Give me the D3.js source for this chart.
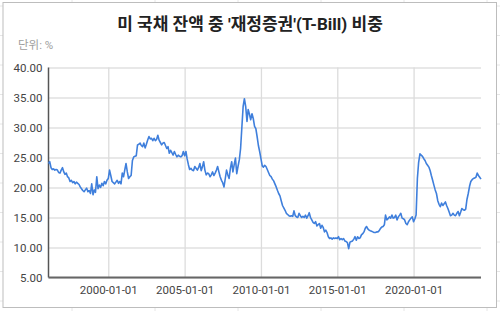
<!DOCTYPE html>
<html>
<head>
<meta charset="utf-8">
<script src="https://cdn.jsdelivr.net/npm/d3@7"></script>
<style>
  body { margin: 0; background: #fff; }
  text { font-family: Roboto, "Noto Sans CJK KR", "Noto Sans", sans-serif; }
</style>
</head>
<body>
<div id="chart"></div>
<script>
// monthly share of T-Bills in US marketable debt (%)
let startMonth = '1996-02-01'
let values1996 = [24.0, 24.3, 23.3, 23.0, 23.1, 22.9, 23.0, 22.9, 22.5, 22.4, 22.9]
let values1997 = [23.3, 22.6, 22.2, 22.4, 21.8, 21.6, 21.0, 21.2, 20.8, 21.0, 20.6, 20.9]
let values1998 = [20.7, 20.5, 20.1, 19.8, 19.5, 19.3, 19.6, 19.9, 19.3, 19.5, 19.0, 20.6]
let values1999 = [18.8, 19.6, 19.2, 21.8, 19.8, 20.4, 20.0, 20.7, 20.3, 21.0, 20.6, 21.2]
let values2000 = [21.5, 22.9, 22.0, 21.0, 20.8, 20.6, 20.9, 21.2, 20.7, 21.0, 20.6, 22.4]
let values2001 = [21.8, 23.0, 24.0, 22.6, 21.5, 21.8, 22.0, 24.5, 25.1, 25.2, 25.3, 27.1]
let values2002 = [27.2, 27.4, 27.0, 26.8, 27.4, 26.6, 27.2, 27.9, 28.5, 28.1, 28.2, 27.8]
let values2003 = [28.2, 27.8, 28.0, 28.7, 27.9, 27.5, 27.1, 27.4, 27.5, 27.0, 26.5, 26.8]
let values2004 = [25.7, 26.2, 25.8, 25.4, 26.0, 25.5, 25.1, 25.4, 25.2, 25.1, 25.3, 26.0]
let values2005 = [25.3, 26.0, 24.8, 23.8, 23.0, 23.2, 22.9, 22.8, 23.5, 23.2, 22.9, 23.3]
let values2006 = [24.0, 22.8, 23.4, 24.3, 22.9, 22.1, 22.4, 22.3, 21.8, 22.1, 22.6, 22.0]
let values2007 = [22.4, 22.9, 23.5, 22.6, 21.8, 21.2, 20.8, 20.1, 21.5, 22.9, 22.1, 21.5]
let values2008 = [23.2, 24.3, 22.6, 23.8, 24.9, 22.3, 23.5, 24.6, 26.5, 30.0, 33.5, 34.8]
let values2009 = [33.5, 31.0, 33.0, 32.2, 31.3, 32.3, 31.5, 30.2, 29.8, 28.5, 27.0, 26.0]
let values2010 = [24.8, 23.6, 23.4, 23.7, 23.5, 23.0, 22.5, 22.0, 21.8, 21.4, 21.1, 20.6]
let values2011 = [20.1, 19.5, 19.0, 18.6, 17.8, 17.0, 16.6, 16.2, 15.7, 15.5, 15.3, 15.2]
let values2012 = [15.3, 15.2, 16.1, 15.3, 15.1, 15.0, 15.7, 15.3, 15.0, 15.2, 15.0, 15.4]
let values2013 = [14.9, 15.3, 15.8, 15.0, 14.6, 14.2, 14.0, 14.3, 13.6, 13.8, 14.0, 13.2]
let values2014 = [13.7, 13.3, 12.6, 12.9, 12.5, 11.8, 11.5, 11.6, 11.4, 11.6, 11.5, 11.6]
let values2015 = [11.5, 11.8, 11.3, 11.5, 11.3, 11.5, 11.1, 11.0, 10.8, 9.8, 10.9, 11.0]
let values2016 = [11.1, 11.4, 11.8, 11.2, 11.8, 11.5, 11.6, 12.1, 12.3, 12.6, 13.2, 13.5]
let values2017 = [13.1, 12.9, 12.8, 12.7, 12.6, 12.5, 12.5, 12.6, 12.6, 12.8, 13.2, 13.4]
let values2018 = [13.5, 13.8, 15.4, 14.6, 14.8, 15.1, 14.9, 15.4, 14.9, 15.0, 15.4, 14.6]
let values2019 = [15.1, 15.4, 15.7, 14.9, 14.8, 14.6, 14.0, 13.8, 14.3, 14.6, 14.9, 15.1]
let values2020 = [14.3, 14.8, 15.4, 21.5, 24.2, 25.6, 25.4, 25.2, 24.8, 24.5, 24.0, 23.7]
let values2021 = [23.4, 22.8, 22.0, 21.2, 20.4, 19.6, 19.0, 17.8, 17.2, 16.8, 17.4, 17.0]
let values2022 = [17.3, 17.6, 17.0, 16.5, 15.9, 15.3, 15.4, 15.7, 15.4, 15.3, 15.7, 16.0]
let values2023 = [15.3, 15.9, 16.5, 16.3, 16.2, 16.4, 18.0, 19.0, 20.2, 21.0, 21.3, 21.5]
let values2024 = [21.6, 21.7, 22.4, 22.0, 21.7, 21.4]

let yTicks = [5, 10, 15, 20, 25, 30, 35, 40]
let xTickLabels = ['2000-01-01', '2005-01-01', '2010-01-01', '2015-01-01', '2020-01-01']
let title = "미 국채 잔액 중 '재정증권'(T-Bill) 비중"
let unitLabel = '단위: %'

let values = [].concat(
  values1996, values1997, values1998, values1999, values2000, values2001,
  values2002, values2003, values2004, values2005, values2006, values2007,
  values2008, values2009, values2010, values2011, values2012, values2013,
  values2014, values2015, values2016, values2017, values2018, values2019,
  values2020, values2021, values2022, values2023, values2024
)
let parse = d3.utcParse('%Y-%m-%d')
let first = parse(startMonth)
let data = values.map((v, i) => ({ date: d3.utcMonth.offset(first, i), value: v }))

let width = 500
let height = 311
let margin = { top: 67.5, right: 19, bottom: 33.5, left: 48.5 }

let svg = d3.select('#chart')
  .append('svg')
  .attr('width', width)
  .attr('height', height)

// faint spreadsheet cell lines behind the chart box
let cellG = svg.append('g').attr('stroke', '#e6e6e6').attr('stroke-width', 1)
d3.range(72, width, 83).forEach(x => {
  cellG.append('line').attr('x1', x).attr('x2', x).attr('y1', 0).attr('y2', height)
})
d3.range(6, height, 29.5).forEach(y => {
  cellG.append('line').attr('x1', 0).attr('x2', width).attr('y1', y).attr('y2', y)
})

svg.append('rect')
  .attr('x', 3)
  .attr('y', 2.5)
  .attr('width', 493.5)
  .attr('height', 305)
  .attr('fill', '#ffffff')
  .attr('stroke', '#bdbdbd')
  .attr('stroke-width', 1)

let x = d3.scaleUtc()
  .domain(d3.extent(data, d => d.date))
  .range([margin.left, width - margin.right])

let y = d3.scaleLinear()
  .domain([5, 40])
  .range([height - margin.bottom, margin.top])

// horizontal gridlines + y labels
let yAxis = d3.axisLeft(y)
  .tickValues(yTicks)
  .tickFormat(d3.format('.2f'))
  .tickSize(-(width - margin.left - margin.right))
  .tickPadding(6)

svg.append('g')
  .attr('transform', 'translate(' + margin.left + ',0)')
  .call(yAxis)
  .call(g => g.select('.domain').remove())
  .call(g => g.selectAll('.tick line').attr('stroke', '#e0e0e0').attr('stroke-width', 1.3))
  .call(g => g.selectAll('.tick text')
    .attr('fill', '#444')
    .style('font-size', '11.5px'))

// vertical gridlines + x labels
let xAxis = d3.axisBottom(x)
  .tickValues(xTickLabels.map(parse))
  .tickFormat(d3.utcFormat('%Y-%m-%d'))
  .tickSize(-(height - margin.top - margin.bottom))
  .tickPadding(8)

svg.append('g')
  .attr('transform', 'translate(0,' + (height - margin.bottom) + ')')
  .call(xAxis)
  .call(g => g.select('.domain').remove())
  .call(g => g.selectAll('.tick line').attr('stroke', '#dcdcdc').attr('stroke-width', 1.3))
  .call(g => g.selectAll('.tick text')
    .attr('fill', '#444')
    .style('font-size', '11.5px'))

// axis lines
svg.append('line')
  .attr('x1', margin.left).attr('x2', margin.left)
  .attr('y1', margin.top).attr('y2', height - margin.bottom)
  .attr('stroke', '#555')
  .attr('stroke-width', 1.5)

svg.append('line')
  .attr('x1', margin.left).attr('x2', width - margin.right)
  .attr('y1', height - margin.bottom).attr('y2', height - margin.bottom)
  .attr('stroke', '#666')
  .attr('stroke-width', 1.8)

let line = d3.line()
  .x(d => x(d.date))
  .y(d => y(d.value))

svg.append('path')
  .datum(data)
  .attr('fill', 'none')
  .attr('stroke', '#3f7fdc')
  .attr('stroke-width', 1.6)
  .attr('stroke-linejoin', 'round')
  .attr('d', line)

svg.append('text')
  .attr('x', 250)
  .attr('y', 30)
  .attr('text-anchor', 'middle')
  .attr('fill', '#222')
  .style('font-size', '17px')
  .style('font-weight', 'bold')
  .text(title)

svg.append('text')
  .attr('x', 18)
  .attr('y', 49)
  .attr('fill', '#9e9e9e')
  .style('font-size', '11.5px')
  .text(unitLabel)
</script>
</body>
</html>
